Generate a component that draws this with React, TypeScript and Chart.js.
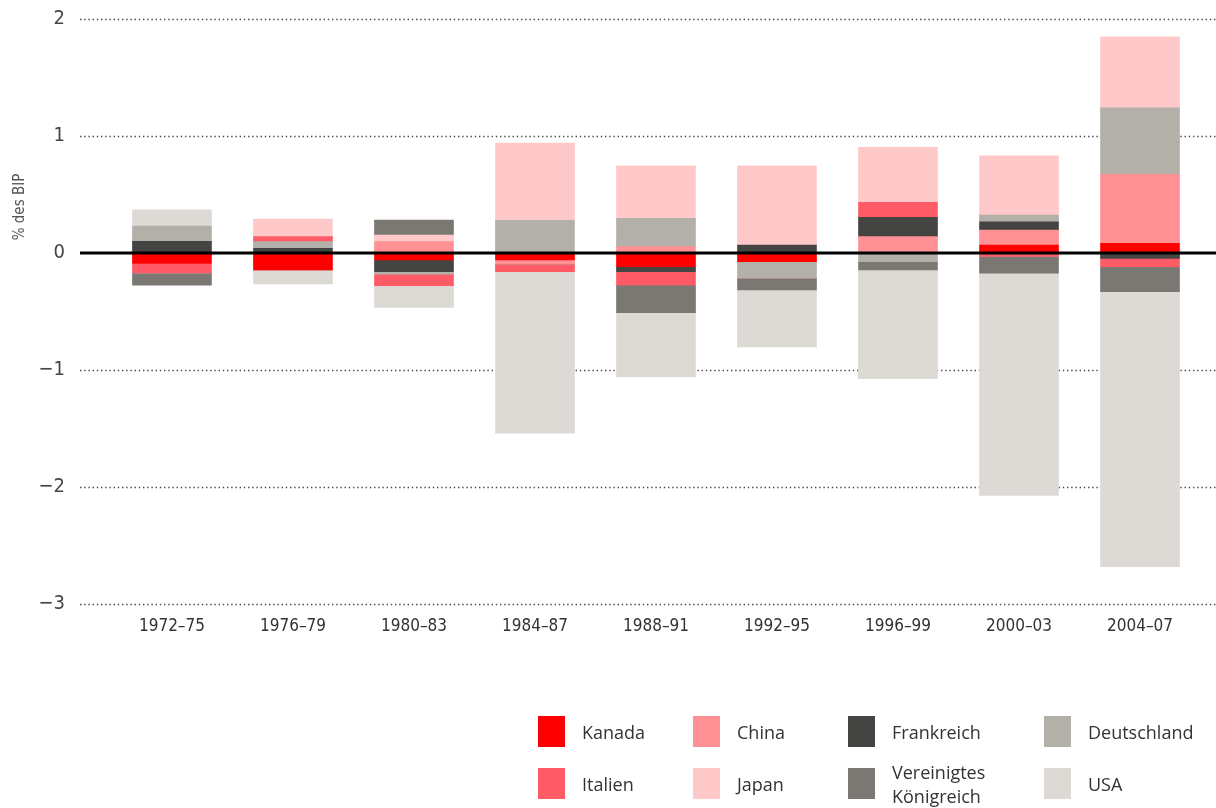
import React, { useEffect, useRef } from "react";
import { Chart, registerables } from "chart.js";

Chart.register(...registerables);

const categories = ["1972–75", "1976–79", "1980–83", "1984–87", "1988–91", "1992–95", "1996–99", "2000–03", "2004–07"];

const seriesNames = ["Kanada", "China", "Frankreich", "Deutschland", "Italien", "Japan", "Vereinigtes Königreich", "USA"];
const seriesColors = ["#FF0000", "#FF9094", "#444443", "#B3B0A9", "#FF5B66", "#FFC9CA", "#7B7873", "#DDDAD6"];

const kanada = [-0.09, -0.145, -0.06, -0.06, -0.117, -0.074, 0, 0.068, 0.083];
const china = [0, 0, 0.097, -0.037, 0.054, 0, 0.14, 0.128, 0.59];
const frankreich = [0.1, 0.04, -0.1, 0, -0.043, 0.068, 0.165, 0.071, -0.046];
const deutschland = [0.13, 0.057, -0.02, 0.28, 0.242, -0.142, -0.074, 0.057, 0.567];
const italien = [-0.08, 0.043, -0.1, -0.063, -0.114, 0, 0.128, -0.03, -0.071];
const japan = [0, 0.15, 0.057, 0.66, 0.45, 0.678, 0.47, 0.507, 0.607];
const vereinigtesKoenigreich = [-0.105, 0, 0.128, 0, -0.236, -0.1, -0.071, -0.142, -0.214];
const usa = [0.14, -0.12, -0.185, -1.38, -0.55, -0.487, -0.93, -1.9, -2.35];

const seriesValues = [kanada, china, frankreich, deutschland, italien, japan, vereinigtesKoenigreich, usa];

const yTicks = [-3, -2, -1, 0, 1, 2];
const yTitle = "% des BIP";

const NARROW = "'Liberation Sans Narrow', 'DejaVu Sans Condensed', sans-serif";
const LEGEND_FONT = "'Open Sans', 'DejaVu Sans', sans-serif";

const gridPlugin = {
  id: "customGrid",
  beforeDatasetsDraw(chart: any) {
    const { ctx, chartArea, scales } = chart;
    ctx.save();
    ctx.strokeStyle = "#4a4a4a";
    ctx.lineWidth = 1.3;
    ctx.setLineDash([1.4, 2.8]);
    yTicks.forEach((t) => {
      if (t === 0) return;
      const y = Math.round(scales.y.getPixelForValue(t)) + 0.5;
      ctx.beginPath();
      ctx.moveTo(chartArea.left, y);
      ctx.lineTo(chartArea.right, y);
      ctx.stroke();
    });
    ctx.restore();
  },
  afterDatasetsDraw(chart: any) {
    const { ctx, chartArea, scales } = chart;
    ctx.save();
    const y = scales.y.getPixelForValue(0);
    ctx.strokeStyle = "#000000";
    ctx.lineWidth = 3;
    ctx.beginPath();
    ctx.moveTo(chartArea.left, y);
    ctx.lineTo(chartArea.right, y);
    ctx.stroke();
    // y axis title
    ctx.translate(20, 207);
    ctx.rotate(-Math.PI / 2);
    ctx.fillStyle = "#555555";
    ctx.font = `15px ${NARROW}`;
    ctx.textAlign = "center";
    ctx.textBaseline = "middle";
    ctx.fillText(yTitle, 0, 0);
    ctx.restore();
  },
};

const legendCols = [538, 693, 848, 1044];
const legendRows = [716, 768];

export default function App() {
  const ref = useRef<HTMLCanvasElement | null>(null);

  useEffect(() => {
    if (!ref.current) return;
    const chart = new Chart(ref.current, {
      type: "bar",
      data: {
        datasets: seriesNames.map((name, si) => ({
          label: name,
          data: seriesValues[si].map((v, i) => ({ x: i, y: v })),
          backgroundColor: seriesColors[si],
          borderWidth: 0,
          barThickness: 79,
          stack: "s",
        })),
      },
      options: {
        responsive: false,
        animation: false,
        layout: { padding: { top: 19, left: 0, right: 0, bottom: 0 } },
        plugins: { legend: { display: false }, tooltip: { enabled: false } },
        scales: {
          x: {
            type: "linear",
            offset: false,
            stacked: true,
            min: -0.76,
            max: 8.628,
            grid: { display: false, drawTicks: false, offset: false },
            border: { display: false },
            afterBuildTicks: (s: any) => {
              s.ticks = categories.map((_, i) => ({ value: i }));
            },
            afterFit: (s: any) => {
              s.height = 204;
              s.paddingLeft = 0;
              s.paddingRight = 0;
            },
            ticks: {
              autoSkip: false,
              maxRotation: 0,
              padding: 12,
              color: "#333333",
              font: { family: NARROW, size: 17 },
              callback: (v: any) => categories[v] ?? "",
            },
          },
          y: {
            stacked: true,
            min: -3,
            max: 2,
            grid: { display: false, drawTicks: false },
            border: { display: false },
            afterBuildTicks: (s: any) => {
              s.ticks = yTicks.map((v) => ({ value: v }));
            },
            afterFit: (s: any) => {
              s.width = 80;
              s.paddingTop = 0;
              s.paddingBottom = 0;
            },
            ticks: {
              padding: 15,
              color: "#444444",
              font: { family: NARROW, size: 20 },
              callback: (v: any) => (v < 0 ? "\u2212" + Math.abs(v) : String(v)),
            },
          },
        },
      },
      plugins: [gridPlugin],
    });
    return () => chart.destroy();
  }, []);

  return (
    <div style={{ position: "absolute", left: 0, top: 0, width: 1216, height: 808, background: "#fff" }}>
      <canvas ref={ref} width={1216} height={808} style={{ width: 1216, height: 808, display: "block" }} />
      {seriesNames.map((name, i) => {
        const col = i % 4;
        const row = Math.floor(i / 4);
        const left = legendCols[col];
        const top = legendRows[row];
        const lines = name === "Vereinigtes Königreich" ? ["Vereinigtes", "Königreich"] : [name];
        return (
          <div key={name}>
            <div
              style={{
                position: "absolute",
                left,
                top,
                width: 27,
                height: 31,
                background: seriesColors[i],
              }}
            />
            <div
              style={{
                position: "absolute",
                left: left + 44,
                top: top + 15.5,
                transform: "translateY(-50%)",
                fontFamily: LEGEND_FONT,
                fontSize: 18,
                lineHeight: "24px",
                color: "#333333",
                whiteSpace: "nowrap",
              }}
            >
              {lines.map((l) => (
                <div key={l}>{l}</div>
              ))}
            </div>
          </div>
        );
      })}
    </div>
  );
}
